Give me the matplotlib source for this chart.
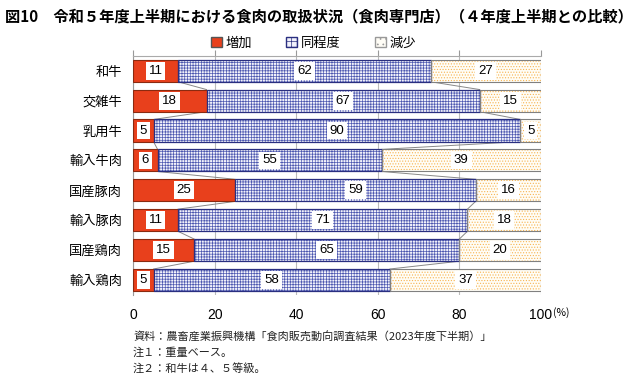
import matplotlib
matplotlib.use("Agg")
import matplotlib.pyplot as plt
from matplotlib.patches import Patch

plt.rcParams['font.family'] = ['Noto Sans CJK JP', 'DejaVu Sans']
plt.rcParams['hatch.linewidth'] = 0.5

# データ
items = ["和牛", "交雑牛", "乳用牛", "輸入牛肉", "国産豚肉", "輸入豚肉", "国産鶏肉", "輸入鶏肉"]
zouka = [11, 18, 5, 6, 25, 11, 15, 5]
doutei = [62, 67, 90, 55, 59, 71, 65, 58]
genshou = [27, 15, 5, 39, 16, 18, 20, 37]
xticks = [0, 20, 40, 60, 80, 100]

red = "#e8401c"
navy = "#2a2f80"
blue_hatch = "#4d58b0"
orange = "#f7b555"

fig = plt.figure(figsize=(6.4, 3.75), dpi=100)
ax = fig.add_axes([0.208, 0.2133, 0.637, 0.638])

y = list(range(len(items)))
h = 0.74
left2 = zouka
left3 = [a + b for a, b in zip(zouka, doutei)]

ax.barh(y, zouka, height=h, color=red, edgecolor="#8a2a10", linewidth=0.8, zorder=3)
ax.barh(y, doutei, left=left2, height=h, color="#f2f2fb", edgecolor=blue_hatch,
        hatch="++++++", linewidth=0, zorder=3)
ax.barh(y, doutei, left=left2, height=h, fill=False, edgecolor=navy, linewidth=0.9, zorder=4)
ax.barh(y, genshou, left=left3, height=h, color="#fffdf6", edgecolor=orange,
        hatch="......", linewidth=0, zorder=3)
ax.barh(y, genshou, left=left3, height=h, fill=False, edgecolor="#808080", linewidth=0.8, zorder=4)

# 系列線
for i in range(len(items) - 1):
    for cum in (left2, left3):
        ax.plot([cum[i], cum[i + 1]], [i + h / 2, i + 1 - h / 2], color="#888888", lw=0.7, zorder=2)

# 値ラベル
box = dict(boxstyle="square,pad=0.22", fc="white", ec="none")
for i in y:
    for start, v in ((0, zouka[i]), (left2[i], doutei[i]), (left3[i], genshou[i])):
        ax.text(start + v / 2, i, str(v), ha="center", va="center", fontsize=9.5,
                family=["Liberation Sans", "DejaVu Sans"], bbox=box, zorder=5)

ax.set_xlim(0, 100)
ax.set_ylim(len(items) - 0.5, -0.5)
ax.set_yticks(y)
ax.set_yticklabels(items, fontsize=9.5)
ax.tick_params(axis="y", length=0, pad=8)
ax.set_xticks(xticks)
ax.set_xticklabels([str(t) for t in xticks], fontsize=10, family=["Liberation Sans", "DejaVu Sans"])
ax.tick_params(axis="x", bottom=False, top=True, length=4, color="#999999", pad=5)
ax.grid(axis="x", color="#bbbbbb", lw=0.8, zorder=0)
for s in ("right", "bottom"):
    ax.spines[s].set_visible(False)
ax.spines["top"].set_color("#aaaaaa")
ax.spines["left"].set_color("#999999")

fig.text(553 / 640, 1 - 313 / 375, "(%)", fontsize=7.5, va="center")

# 凡例
handles = [
    Patch(facecolor=red, edgecolor="#555555", label="増加"),
    Patch(facecolor="#f2f2fb", edgecolor=navy, hatch="+++", label="同程度"),
    Patch(facecolor="#fffdf6", edgecolor="#999999", hatch="...", label="減少"),
]
fig.legend(handles=handles, loc="center", bbox_to_anchor=(0.49, 1 - 43 / 375), ncol=3,
           frameon=False, fontsize=9.5, handlelength=0.8, handleheight=0.8,
           handletextpad=0.3, columnspacing=2.6)

fig.text(5 / 640, 1 - 16 / 375, "図10　令和５年度上半期における食肉の取扱状況（食肉専門店）（４年度上半期との比較）",
         fontsize=11, fontweight="bold", va="center")

notes = ["資料：農畜産業振興機構「食肉販売動向調査結果（2023年度下半期）」",
         "注１：重量ベース。",
         "注２：和牛は４、５等級。"]
for k, t in enumerate(notes):
    fig.text(133 / 640, 1 - (337 + 15.5 * k) / 375, t, fontsize=8, va="center", color="#222222")

fig.savefig("out.png", dpi=100)
